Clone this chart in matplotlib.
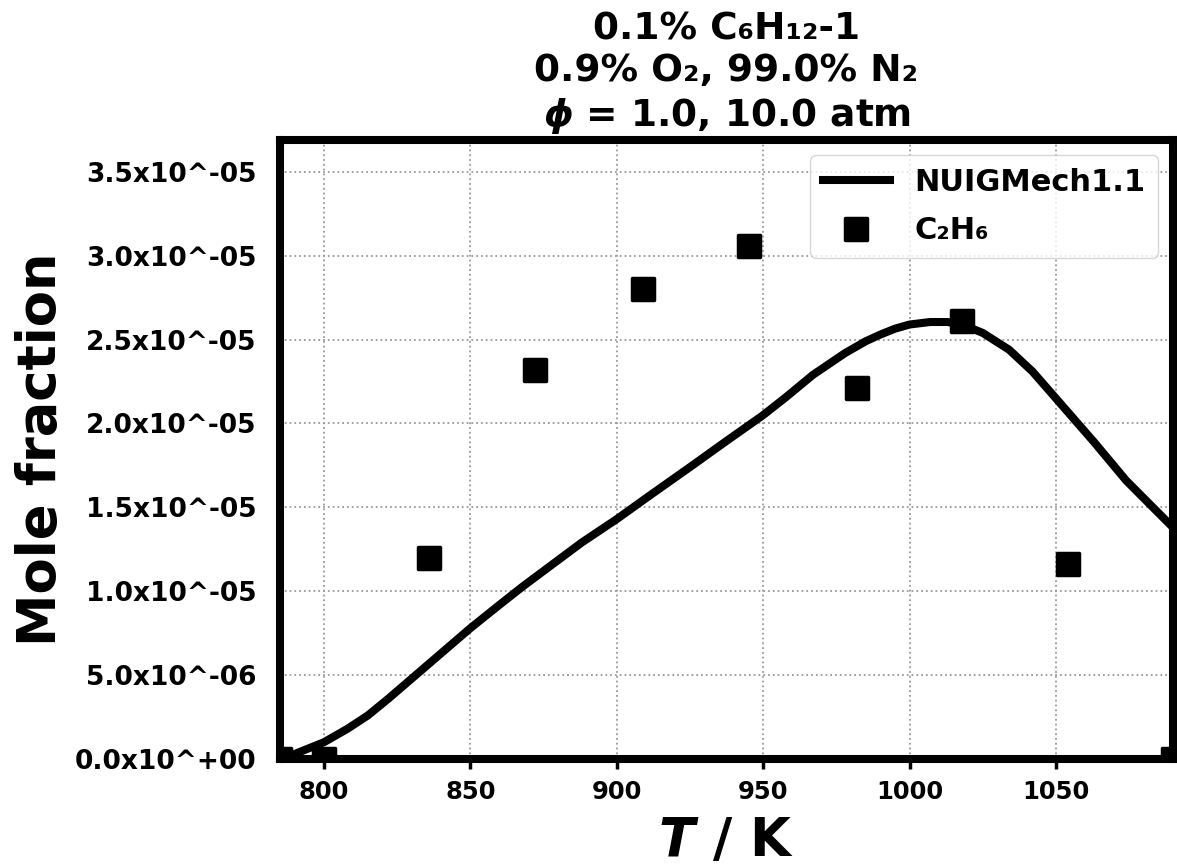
import matplotlib

matplotlib.use("Agg")
import matplotlib.pyplot as plt
from matplotlib.markers import MarkerStyle
from matplotlib.ticker import FuncFormatter, MultipleLocator

# Model curve (NUIGMech1.1)
T_model = [786, 790, 800, 808, 815, 822, 830, 840, 850, 860, 868, 878, 888, 900,
           912, 925, 937, 950, 958, 967, 978, 985, 990, 995, 1000, 1007, 1013,
           1018, 1025, 1034, 1042, 1050, 1063, 1074, 1082, 1090]
X_model = [0.0, 0.03, 0.10, 0.18, 0.26, 0.36, 0.48, 0.63, 0.78, 0.92, 1.03, 1.16,
           1.29, 1.43, 1.58, 1.74, 1.89, 2.05, 2.16, 2.29, 2.42, 2.49, 2.53,
           2.565, 2.59, 2.605, 2.605, 2.59, 2.54, 2.44, 2.31, 2.15, 1.89, 1.66,
           1.52, 1.38]

# Measured C2H6 mole fractions
T_exp = [785, 800, 836, 872, 909, 945, 982, 1018, 1054, 1090]
X_exp = [0.0, 0.0, 1.20, 2.32, 2.80, 3.06, 2.21, 2.61, 1.16, 0.0]

scale = 1e-5
title = "0.1% C\u2086H\u2081\u2082-1\n0.9% O\u2082, 99.0% N\u2082\n$\\phi$ = 1.0, 10.0 atm"

plt.rcParams["font.family"] = "DejaVu Sans"
plt.rcParams["font.weight"] = "bold"
plt.rcParams["mathtext.fontset"] = "custom"
plt.rcParams["mathtext.it"] = "DejaVu Sans:italic:bold"
plt.rcParams["mathtext.rm"] = "DejaVu Sans:bold"

fig = plt.figure(figsize=(11.77, 8.67), dpi=100)
ax = fig.add_axes([0.238, 0.1246, 0.7586, 0.7139])

ax.plot(T_model, [v * scale for v in X_model], color="black", lw=5.8,
        label="NUIGMech1.1", zorder=3, solid_joinstyle="round")
sq = MarkerStyle("s", joinstyle="round")
ax.plot(T_exp, [v * scale for v in X_exp], linestyle="none", marker=sq,
        ms=16, mew=2.5, mfc="black", mec="black", label="C\u2082H\u2086", zorder=4)

ax.set_xlim(785, 1090)
ax.set_ylim(0, 3.69e-5)
ax.xaxis.set_major_locator(MultipleLocator(50))
ax.yaxis.set_major_locator(MultipleLocator(0.5e-5))
ax.yaxis.set_major_formatter(FuncFormatter(lambda v, _: f"{v:.1e}".replace("e", "x10^")))

ax.grid(True, linestyle=":", color="#999999", lw=1.3)
for spine in ax.spines.values():
    spine.set_linewidth(5.8)

ax.tick_params(axis="x", labelsize=17.5, length=7, width=2.5, pad=8)
ax.tick_params(axis="y", labelsize=19, length=0, pad=17)

ax.set_xlabel("$T$ / K", fontsize=38, fontweight="bold", labelpad=8)
ax.set_ylabel("Mole fraction", fontsize=38, fontweight="bold", labelpad=6)
ax.set_title(title, fontsize=27, fontweight="bold", pad=10)

ax.legend(loc="upper right", fontsize=22, numpoints=1, handlelength=2.2,
          labelspacing=0.65)

fig.savefig("out.png", dpi=100)
